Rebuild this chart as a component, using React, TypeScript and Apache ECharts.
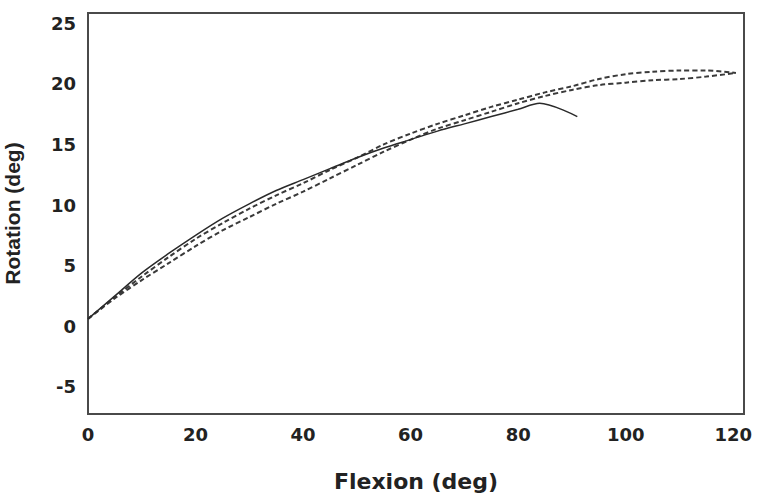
import React, { useEffect, useRef } from "react";
import * as echarts from "echarts";

const solidX = [0, 5, 10, 15, 20, 25, 30, 35, 40, 45, 50, 55, 60, 65, 70, 75, 80, 84, 91];
const solidY = [0.6, 2.5, 4.4, 6.0, 7.5, 8.9, 10.1, 11.2, 12.1, 13.0, 13.9, 14.7, 15.4, 16.1, 16.7, 17.3, 17.9, 18.4, 17.3];

const dash1X = [0, 5, 10, 15, 20, 25, 30, 35, 40, 45, 50, 55, 60, 65, 70, 75, 80, 85, 90, 95, 100, 105, 110, 115, 120.5];
const dash1Y = [0.6, 2.4, 4.1, 5.7, 7.2, 8.5, 9.7, 10.8, 11.8, 12.9, 13.9, 15.0, 15.9, 16.7, 17.4, 18.1, 18.7, 19.3, 19.8, 20.4, 20.8, 21.0, 21.1, 21.1, 20.9];

const dash2X = [0, 5, 10, 15, 20, 25, 30, 35, 40, 45, 50, 55, 60, 65, 70, 75, 80, 85, 90, 95, 100, 105, 110, 115, 120.5];
const dash2Y = [0.6, 2.3, 3.8, 5.2, 6.6, 7.9, 9.0, 10.1, 11.1, 12.2, 13.3, 14.4, 15.4, 16.3, 17.0, 17.7, 18.4, 19.0, 19.5, 19.9, 20.1, 20.3, 20.4, 20.6, 20.9];

const xMin = 0;
const xMax = 122;
const xStep = 20;
const yMin = -7.25;
const yMax = 25.85;
const yStep = 5;

const xTitle = "Flexion (deg)";
const yTitle = "Rotation (deg)";

const pairs = (xs: number[], ys: number[]) => xs.map((x, i) => [x, ys[i]]);

export default function App() {
  const ref = useRef<HTMLDivElement>(null);
  useEffect(() => {
    if (!ref.current) return;
    const chart = echarts.init(ref.current, null, { renderer: "svg" });
    const wide = "'DejaVu Sans', sans-serif";
    const narrow = "'Liberation Sans', Arial, sans-serif";
    chart.setOption({
      animation: false,
      backgroundColor: "#ffffff",
      grid: {
        left: 88,
        top: 13,
        right: 13,
        bottom: 83,
        show: true,
        borderColor: "#4a4a4a",
        borderWidth: 2,
        backgroundColor: "transparent",
        outerBoundsMode: "none",
        containLabel: false,
      },
      xAxis: {
        type: "value",
        min: xMin,
        max: xMax,
        interval: xStep,
        name: xTitle,
        nameLocation: "middle",
        nameGap: 56,
        nameTextStyle: { fontFamily: wide, fontWeight: "bold", fontSize: 22, color: "#222" },
        axisLine: { show: false },
        axisTick: { show: false },
        splitLine: { show: false },
        axisLabel: {
          fontFamily: wide,
          fontWeight: "bold",
          fontSize: 18,
          color: "#222",
          margin: 11,
          formatter: (v: number) => (v % xStep === 0 ? String(v) : ""),
        },
      },
      yAxis: {
        type: "value",
        min: yMin,
        max: yMax,
        minInterval: yStep,
        maxInterval: yStep,
        name: yTitle,
        nameLocation: "middle",
        nameGap: 65,
        nameTextStyle: { fontFamily: narrow, fontWeight: "bold", fontSize: 21, lineHeight: 22, color: "#222" },
        axisLine: { show: false },
        axisTick: { show: false },
        splitLine: { show: false },
        axisLabel: {
          fontFamily: wide,
          fontWeight: "bold",
          fontSize: 18,
          color: "#222",
          margin: 12,
          formatter: (v: number) => (Math.abs(v % yStep) < 1e-9 ? String(v) : ""),
        },
      },
      series: [
        {
          type: "line",
          data: pairs(dash2X, dash2Y),
          smooth: 0.3,
          showSymbol: false,
          lineStyle: { color: "#3a3a3a", width: 2, type: [5, 3] },
        },
        {
          type: "line",
          data: pairs(dash1X, dash1Y),
          smooth: 0.3,
          showSymbol: false,
          lineStyle: { color: "#3a3a3a", width: 2, type: [5, 3] },
        },
        {
          type: "line",
          data: pairs(solidX, solidY),
          smooth: 0.3,
          showSymbol: false,
          lineStyle: { color: "#2a2a2a", width: 1.5, type: "solid" },
        },
      ],
    });
    return () => chart.dispose();
  }, []);
  return <div ref={ref} style={{ width: 757, height: 497, position: "absolute", left: 0, top: 0 }} />;
}
